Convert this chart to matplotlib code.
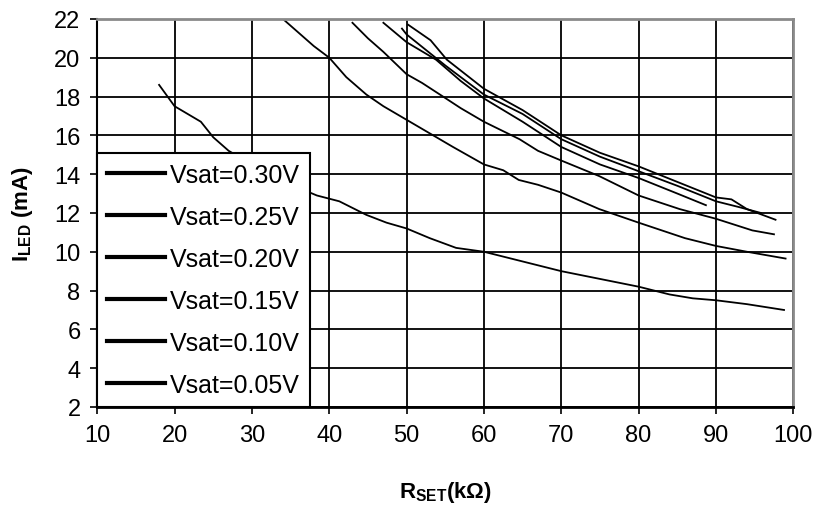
import matplotlib
matplotlib.use("Agg")
import matplotlib.pyplot as plt

plt.rcParams['font.family'] = ['Liberation Sans', 'DejaVu Sans']
plt.rcParams['mathtext.default'] = 'regular'

# curves, R_SET in kOhm, I_LED in mA
rset_030 = [18, 20, 23.4, 25, 27, 30, 33, 36, 38.4, 41.3, 44.8, 47.4, 50, 53, 56.4, 60, 65, 70, 75, 80, 84, 87, 90, 94, 98.8]
iled_030 = [18.6, 17.5, 16.7, 15.9, 15.2, 14.5, 13.8, 13.3, 12.9, 12.6, 11.9, 11.5, 11.2, 10.7, 10.2, 10.0, 9.5, 9.0, 8.6, 8.2, 7.8, 7.6, 7.5, 7.3, 7.0]

rset_025 = [34, 36, 38, 40, 42.2, 44.8, 47, 50, 53, 56, 60, 62.5, 64.5, 67, 70, 74.9, 80, 86, 90, 94, 99]
iled_025 = [22, 21.3, 20.6, 20.0, 19.0, 18.1, 17.5, 16.8, 16.1, 15.4, 14.5, 14.2, 13.7, 13.45, 13.05, 12.2, 11.5, 10.7, 10.3, 10.0, 9.65]

rset_020 = [43, 45, 47, 50, 52, 54.7, 57, 60, 64.6, 67, 70, 74.9, 80, 85.3, 90, 94.7, 97.5]
iled_020 = [21.8, 21.0, 20.3, 19.15, 18.7, 18.0, 17.4, 16.7, 15.8, 15.2, 14.7, 13.9, 12.9, 12.2, 11.7, 11.1, 10.9]

rset_015 = [47, 50, 53.8, 57, 60, 65, 70, 75, 80, 85, 88.7]
iled_015 = [21.8, 20.8, 19.9, 18.8, 17.9, 16.7, 15.4, 14.5, 13.8, 13.0, 12.4]

rset_010 = [49.4, 50, 55, 60, 65, 70, 75, 80, 85, 90, 93, 95.8]
iled_010 = [21.5, 21.2, 19.6, 18.1, 17.1, 15.8, 14.9, 14.15, 13.4, 12.6, 12.3, 12.0]

rset_005 = [50.2, 53.1, 55.2, 60, 65, 70, 75, 80, 85, 90, 92, 94, 97.7]
iled_005 = [21.7, 20.9, 19.9, 18.4, 17.3, 16.0, 15.1, 14.4, 13.6, 12.8, 12.7, 12.2, 11.65]

labels = ['Vsat=0.30V', 'Vsat=0.25V', 'Vsat=0.20V', 'Vsat=0.15V', 'Vsat=0.10V', 'Vsat=0.05V']
curves = [(rset_030, iled_030), (rset_025, iled_025), (rset_020, iled_020),
          (rset_015, iled_015), (rset_010, iled_010), (rset_005, iled_005)]

x_ticks = list(range(10, 101, 10))
y_ticks = list(range(2, 23, 2))

fig = plt.figure(figsize=(8.17, 5.10), dpi=100)
ax = fig.add_axes([0.119, 0.2, 0.852, 0.761])

for (xs, ys), lab in zip(curves, labels):
    ax.plot(xs, ys, color='black', lw=1.3, label=lab)

ax.set_xlim(10, 100)
ax.set_ylim(2, 22)
ax.set_xticks(x_ticks)
ax.set_yticks(y_ticks)
ax.grid(True, color='black', lw=1.3)
ax.set_axisbelow(True)
ax.tick_params(direction='out', length=5, width=1.2, labelsize=17, pad=7)

for side in ['top', 'right']:
    ax.spines[side].set_color('#8a8a8a')
    ax.spines[side].set_linewidth(2)
ax.spines['left'].set_linewidth(1.5)
ax.spines['bottom'].set_linewidth(2)

ax.set_xlabel(r'R$_{SET}$(k$\Omega$)', fontsize=16, fontweight='bold', labelpad=24)
ax.set_ylabel(r'I$_{LED}$ (mA)', fontsize=16, fontweight='bold', labelpad=14)

leg = ax.legend(loc='lower left', bbox_to_anchor=(0, 0), borderaxespad=0,
                fontsize=18, frameon=True, fancybox=False, framealpha=1,
                edgecolor='black', handlelength=2.3, handletextpad=0.2,
                labelspacing=0.72, borderpad=0.4)
leg.get_frame().set_linewidth(1.5)
for line in leg.get_lines():
    line.set_linewidth(3)

fig.savefig('out.png', dpi=100)
